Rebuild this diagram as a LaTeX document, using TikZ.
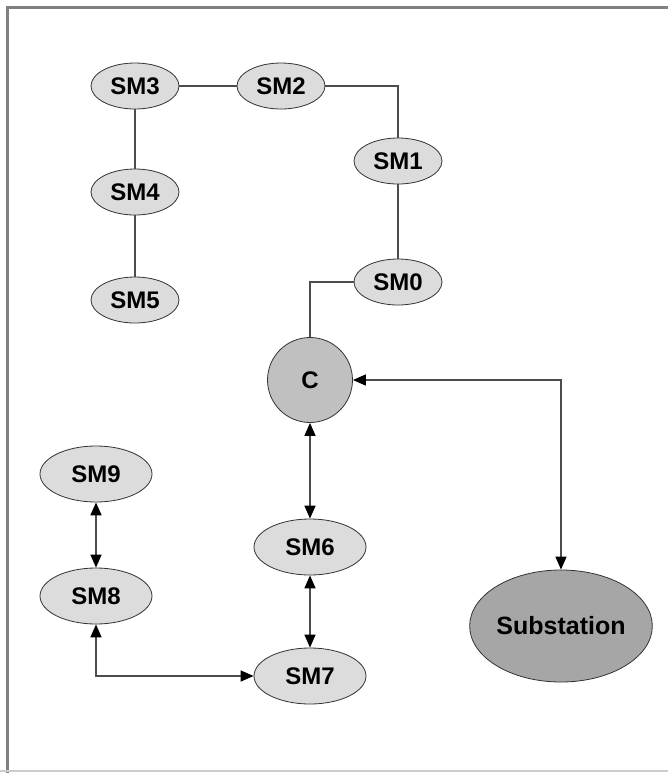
\documentclass[tikz,border=0pt]{standalone}
\usepackage{fontspec}
\setmainfont{Liberation Sans}
\usepackage{tikz}
\usetikzlibrary{shapes.geometric,arrows.meta}
\definecolor{smgray}{HTML}{DCDCDC}
\definecolor{cgray}{HTML}{C0C0C0}
\definecolor{subgray}{HTML}{A6A6A6}
\definecolor{framegray}{HTML}{808080}

\begin{document}
\begin{tikzpicture}[x=0.5pt,y=-0.5pt,
    sm/.style={ellipse,draw=black!80,fill=smgray,minimum width=44pt,minimum height=23pt,
      inner sep=0pt,font=\bfseries\fontsize{12}{14}\selectfont},
    smbig/.style={sm,minimum width=56pt,minimum height=28pt},
    link/.style={draw=black!70,line width=0.75pt},
    both/.style={link,{Triangle[length=6.5pt,width=5.5pt,color=black]}-{Triangle[length=6.5pt,width=5.5pt,color=black]}}]
  \useasboundingbox (0,0) rectangle (668,773);
  % frame
  \draw[framegray,line width=1.5pt] (7,773) -- (7,7) -- (668,7);
  \draw[black!20,line width=1pt] (0,771) -- (668,771);

  % upper chain
  \node[sm] (sm3) at (135,86) {SM3};
  \node[sm] (sm2) at (281,86) {SM2};
  \node[sm] (sm1) at (398,161) {SM1};
  \node[sm] (sm4) at (135,192) {SM4};
  \node[sm] (sm5) at (135,300) {SM5};
  \node[sm] (sm0) at (398,282) {SM0};

  % concentrator and substation
  \node[circle,draw=black!80,fill=cgray,minimum size=42.5pt,inner sep=0pt,
    font=\bfseries\fontsize{12}{14}\selectfont] (c) at (310,380) {C};
  \node[ellipse,draw=black!80,fill=subgray,minimum width=88pt,minimum height=56pt,
    inner sep=0pt,font=\bfseries\fontsize{12.5}{14}\selectfont] (sub) at (561,626) {Substation};

  % lower chain
  \node[smbig] (sm9) at (96,474) {SM9};
  \node[smbig] (sm8) at (96,596) {SM8};
  \node[smbig] (sm6) at (310,547) {SM6};
  \node[smbig] (sm7) at (310,676) {SM7};

  \draw[link] (sm3) -- (sm2);
  \draw[link] (sm2) -| (sm1);
  \draw[link] (sm3) -- (sm4);
  \draw[link] (sm4) -- (sm5);
  \draw[link] (sm1) -- (sm0);
  \draw[link] (sm0) -| (c);

  \draw[both] (c) -| (sub);
  \draw[both] (c) -- (sm6);
  \draw[both] (sm6) -- (sm7);
  \draw[both] (sm9) -- (sm8);
  \draw[both] (sm8) |- (sm7);
\end{tikzpicture}
\end{document}
